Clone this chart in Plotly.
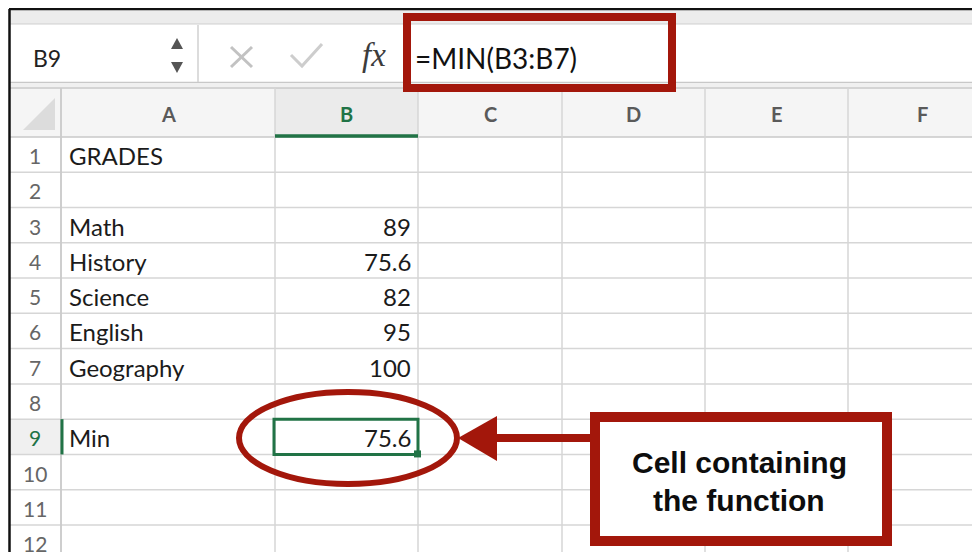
import plotly.graph_objects as go

# ---------------- data ----------------
subjects = ["Math", "History", "Science", "English", "Geography"]
grades = [89, 75.6, 82, 95, 100]
title_label = "GRADES"
min_label = "Min"
min_value = min(grades)
col_letters = ["A", "B", "C", "D", "E", "F"]
row_numbers = list(range(1, 13))
name_box = "B9"
formula = "=MIN(B3:B7)"
callout_lines = ["Cell containing", "the function"]

# ---------------- layout geometry (pixels) ----------------
W, H = 980, 552
OFF = 8  # page body margin compensation
col_edges = [61, 275, 418, 562, 705, 848, 996]
hdr_top, hdr_bot = 88, 137
row_h = 35.27
RED = "#A3170B"
GREEN = "#217346"
GRID = "#d6d6d6"
CELL_FONT = "Lato, 'Open Sans', sans-serif"

shapes = []
annos = []

def rect(x0, y0, x1, y1, fill=None, line=None, lw=0):
    d = dict(type="rect", x0=x0, y0=y0, x1=x1, y1=y1, xref="x", yref="y",
             line=dict(width=lw, color=line if line else "rgba(0,0,0,0)"))
    if fill:
        d["fillcolor"] = fill
    shapes.append(d)

def line(x0, y0, x1, y1, color, w):
    shapes.append(dict(type="line", x0=x0, y0=y0, x1=x1, y1=y1, xref="x", yref="y",
                       line=dict(color=color, width=w)))

def text(x, y, s, size, color="#1b1b1b", family=CELL_FONT, xanchor="center"):
    annos.append(dict(x=x, y=y, text=s, showarrow=False, xref="x", yref="y",
                      xanchor=xanchor, yanchor="middle",
                      font=dict(size=size, color=color, family=family)))

def row_y(i):  # top edge of row i (1-based)
    return hdr_bot + (i - 1) * row_h

# toolbar strip + formula bar
rect(10, 10, W + 10, 24, fill="#ececec")
line(10, 24, W + 10, 24, "#cfcfcf", 1)
rect(10, 25, W + 10, 82, fill="#ffffff")
line(10, 82.5, W + 10, 82.5, "#c8c8c8", 1.5)
rect(10, 83.5, W + 10, 87.5, fill="#f0f0f0")
line(198, 25, 198, 82, "#d0d0d0", 1.5)

# column header band
rect(10, hdr_top, W + 10, hdr_bot, fill="#f5f5f5")
rect(col_edges[1], hdr_top, col_edges[2], hdr_bot, fill="#ebebeb")
line(10, hdr_top, W + 10, hdr_top, "#c8c8c8", 1.5)
line(10, hdr_bot, W + 10, hdr_bot, "#c8c8c8", 1.5)
# corner triangle
shapes.append(dict(type="path", path="M 23,130 L 55,98 L 55,130 Z", xref="x", yref="y",
                   fillcolor="#dcdcdc", line=dict(width=0)))

# row 9 header highlight
rect(10, row_y(9), col_edges[0], row_y(10), fill="#f0f0f0")

# grid lines
for i in range(1, len(row_numbers) + 1):
    line(10, row_y(i + 1), W + 10, row_y(i + 1), GRID, 1.5)
for x in col_edges:
    line(x, hdr_top, x, H + 10, GRID, 1.5)
line(col_edges[0], hdr_top, col_edges[0], H + 10, "#c8c8c8", 1.5)

# green header underline for column B
line(col_edges[1], hdr_bot - 1, col_edges[2], hdr_bot - 1, GREEN, 3.5)
# green row marker for row 9
line(col_edges[0] + 1, row_y(9), col_edges[0] + 1, row_y(10), GREEN, 3)

# outer black frame
line(9, 9, W + 10, 9, "#111111", 2.5)
line(9.5, 9, 9.5, H + 10, "#111111", 2.5)

# name box, spinner, cancel/confirm, fx
text(31, 58, name_box, 23, "#222222", xanchor="left")
shapes.append(dict(type="path", path="M 171,49 L 177,38 L 183,49 Z", xref="x", yref="y",
                   fillcolor="#555555", line=dict(width=0)))
shapes.append(dict(type="path", path="M 171,62 L 177,73 L 183,62 Z", xref="x", yref="y",
                   fillcolor="#555555", line=dict(width=0)))
# cancel "x" and confirm check drawn as light strokes
line(231, 47, 252, 67, "#c2c2c2", 3)
line(231, 67, 252, 47, "#c2c2c2", 3)
shapes.append(dict(type="path", path="M 291,55 L 302,66 L 322,44", xref="x", yref="y",
                   line=dict(color="#cdcdcd", width=3)))
text(374, 55, "<i>fx</i>", 33, "#3c3c3c", family="Liberation Serif")
text(413, 58, formula, 28, "#111111", xanchor="left")

# column letters
for k, c in enumerate(col_letters):
    cx = (col_edges[k] + col_edges[k + 1]) / 2
    if c == "F":
        cx = 922
    colr = GREEN if c == "B" else "#5a5a5a"
    text(cx, 114, "<b>" + c + "</b>", 20, colr)

# row numbers
for r in row_numbers:
    col = GREEN if r == 9 else "#666666"
    text(35, row_y(r) + row_h / 2 + 1, str(r), 21, col)

# cell contents
text(67, row_y(1) + row_h / 2 + 1, title_label, 24, xanchor="left")
for i, (s, g) in enumerate(zip(subjects, grades)):
    r = 3 + i
    text(67, row_y(r) + row_h / 2 + 1, s, 24, xanchor="left")
    text(413, row_y(r) + row_h / 2 + 1, f"{g:g}", 24, xanchor="right")
text(67, row_y(9) + row_h / 2 + 1, min_label, 24, xanchor="left")
text(413, row_y(9) + row_h / 2 + 1, f"{min_value:g}", 24, xanchor="right")

# selected cell B9
rect(col_edges[1] - 1, row_y(9), col_edges[2], row_y(10), line=GREEN, lw=3)
rect(col_edges[2] - 4, row_y(10) - 4, col_edges[2] + 3, row_y(10) + 3, fill=GREEN)

# red annotations: formula box, ellipse, arrow, callout
rect(407, 17, 672, 88, line=RED, lw=8)
shapes.append(dict(type="circle", x0=239, y0=392, x1=457, y1=484, xref="x", yref="y",
                   line=dict(color=RED, width=6)))
line(494, 438, 594, 438, RED, 8)
shapes.append(dict(type="path", path="M 458,438 L 497,416 L 497,461 Z", xref="x", yref="y",
                   fillcolor=RED, line=dict(width=0)))
rect(595, 417, 887, 541, fill="#ffffff", line=RED, lw=10)
for j, s in enumerate(callout_lines):
    text(739, 462 + j * 38, "<b>" + s + "</b>", 30, "#0d0d0d",
         family="Liberation Sans, Arial, sans-serif")

# figure placed after the page's 8px body margin
FW, FH = W - OFF, H - OFF
fig = go.Figure()
fig.update_layout(
    width=FW, height=FH,
    margin=dict(l=0, r=0, t=0, b=0),
    paper_bgcolor="#ffffff", plot_bgcolor="#ffffff",
    xaxis=dict(range=[OFF, W], visible=False, fixedrange=True),
    yaxis=dict(range=[H, OFF], visible=False, fixedrange=True),
    shapes=shapes, annotations=annos, showlegend=False,
)
fig.write_html("out.html")
